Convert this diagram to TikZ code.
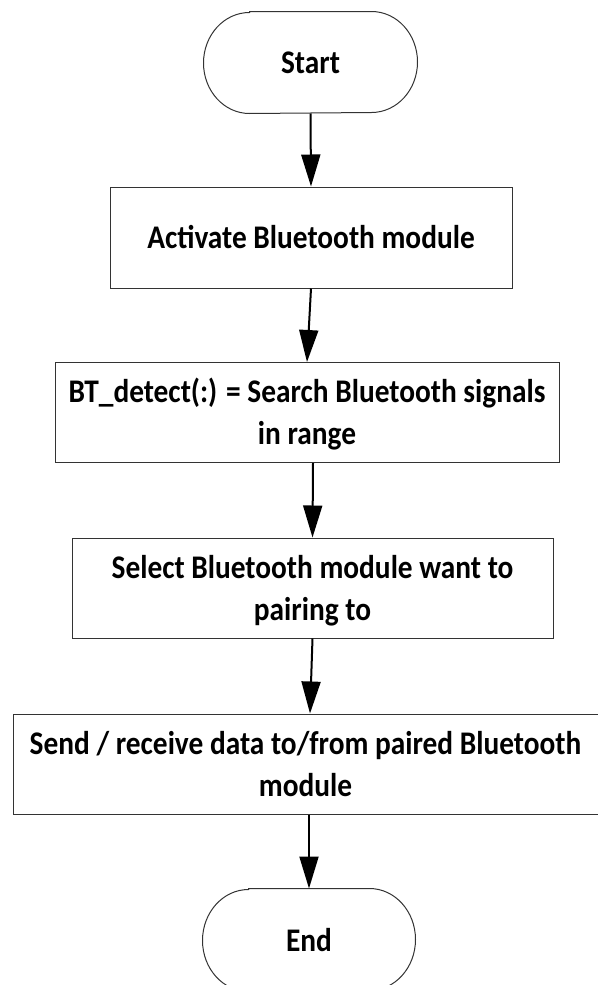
\documentclass[tikz,border=0pt]{standalone}
\usepackage{fontspec}
\usepackage{graphicx}
\setmainfont{Carlito}
\usetikzlibrary{arrows.meta}
\newcommand{\sqtext}[1]{\raisebox{0pt}[\dimexpr\height+6pt\relax][\depth]{\scalebox{0.89}[1]{\begin{tabular}{@{}c@{}}#1\end{tabular}}}}
\begin{document}
\begin{tikzpicture}[x=1pt,y=1pt,
  box/.style={draw=black!80, line width=1pt, fill=white, align=center,
    font=\fontsize{33}{42}\selectfont\bfseries, inner sep=0pt},
  term/.style={box, draw=none, fill=none},
  termline/.style={draw=black!80, line width=1pt},
  arr/.style={line width=2pt, -{Triangle[length=32pt,width=19pt]}}]
\useasboundingbox (0,0) rectangle (597,-985);
\node[term, minimum width=213pt, minimum height=101pt] (start) at (310.5,-62.5) {\sqtext{Start}};
\draw[termline] ([xshift=46pt]start.north west) -- ([xshift=-46pt]start.north east)
  arc[start angle=90, end angle=-90, x radius=46pt, y radius=50.5pt]
  -- ([xshift=46pt]start.south west)
  arc[start angle=270, end angle=90, x radius=46pt, y radius=50.5pt] -- cycle;
\node[box, minimum width=402pt, minimum height=101pt] (b1) at (311,-237.5) {\sqtext{Activate Bluetooth module}};
\node[box, minimum width=504pt, minimum height=100pt] (b2) at (307,-412.5) {\sqtext{BT\_detect(:) = Search Bluetooth signals\\in range}};
\node[box, minimum width=481pt, minimum height=100pt] (b3) at (312.5,-588) {\sqtext{Select Bluetooth module want to\\pairing to}};
\node[box, minimum width=585pt, minimum height=100pt] (b4) at (305.5,-764) {\sqtext{Send / receive data to/from paired Bluetooth\\module}};
\node[term, minimum width=212pt, minimum height=102pt] (end) at (309,-940) {\sqtext{End}};
\draw[termline] ([xshift=46pt]end.north west) -- ([xshift=-46pt]end.north east)
  arc[start angle=90, end angle=-90, x radius=46pt, y radius=51pt]
  -- ([xshift=46pt]end.south west)
  arc[start angle=270, end angle=90, x radius=46pt, y radius=51pt] -- cycle;
\draw[arr] (start.south) -- (b1.north);
\draw[arr] (b1.south) -- (b2.north);
\draw[arr] ([xshift=6pt]b2.south) -- (b3.north);
\draw[arr] (b3.south) -- ([xshift=4.5pt]b4.north);
\draw[arr] ([xshift=3.5pt]b4.south) -- (end.north);
\end{tikzpicture}
\end{document}
